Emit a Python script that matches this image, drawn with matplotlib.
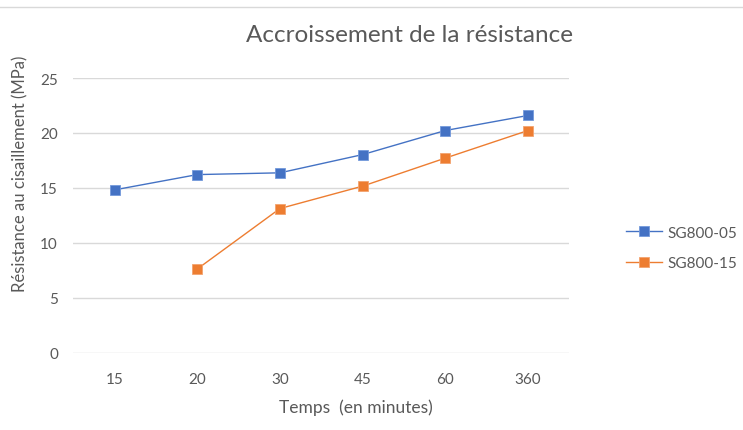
import matplotlib
matplotlib.use("Agg")
import matplotlib.pyplot as plt
import numpy as np

plt.rcParams['font.family'] = ['Lato', 'DejaVu Sans']

categories = ["15", "20", "30", "45", "60", "360"]
sg800_05 = [14.82, 16.21, 16.37, 18.03, 20.22, 21.59]
sg800_15 = [np.nan, 7.62, 13.12, 15.16, 17.71, 20.22]
yticks = [0, 5, 10, 15, 20, 25]

blue = "#4472C4"
orange = "#ED7D31"
grey_text = "#595959"

W, H = 743, 431
fig = plt.figure(figsize=(W / 100, H / 100), dpi=100)
ax = fig.add_axes([73.3 / W, 1 - 353.7 / H, 496 / W, 274.7 / H])

x = np.arange(len(categories))
ax.plot(x, sg800_05, color=blue, lw=1.0, marker='s', ms=7.5, mec="#7399dc", mew=0.6, label="SG800-05")
ax.plot(x, sg800_15, color=orange, lw=1.0, marker='s', ms=7.5, mec="#f3a36f", mew=0.6, label="SG800-15")

ax.set_xlim(-0.5, len(categories) - 0.5)
ax.set_ylim(0, 25)
ax.set_yticks(yticks)
ax.set_xticks(x)
ax.set_xticklabels(categories)
ax.grid(axis='y', color="#D9D9D9", lw=1.0)
ax.set_axisbelow(True)
for s in ax.spines.values():
    s.set_visible(False)
ax.tick_params(axis='both', length=0, colors=grey_text, labelsize=11)
ax.tick_params(axis='x', pad=14)
ax.tick_params(axis='y', pad=11)

fig.text(355.5 / W, 1 - 408 / H, "Temps  (en minutes)", ha='center', va='center',
         color=grey_text, fontsize=12.5)
fig.text(20 / W, 1 - 173.5 / H, "Résistance au cisaillement (MPa)", ha='center', va='center',
         rotation=90, color=grey_text, fontsize=12)

fig.text(410 / W, 1 - 35 / H, "Accroissement de la résistance", ha='center', va='center',
         fontsize=17.5, color=grey_text)

leg = ax.legend(loc='center left', bbox_to_anchor=(620 / W, 1 - 249 / H),
                bbox_transform=fig.transFigure, borderaxespad=0, frameon=False,
                fontsize=11, labelcolor=grey_text, handlelength=2.35,
                handletextpad=0.35, labelspacing=1.1)

fig.add_artist(plt.Line2D([0, 1], [1 - 7.5 / H, 1 - 7.5 / H], color="#D9D9D9", lw=1.0,
                          transform=fig.transFigure))

fig.savefig("out.png", dpi=100)
